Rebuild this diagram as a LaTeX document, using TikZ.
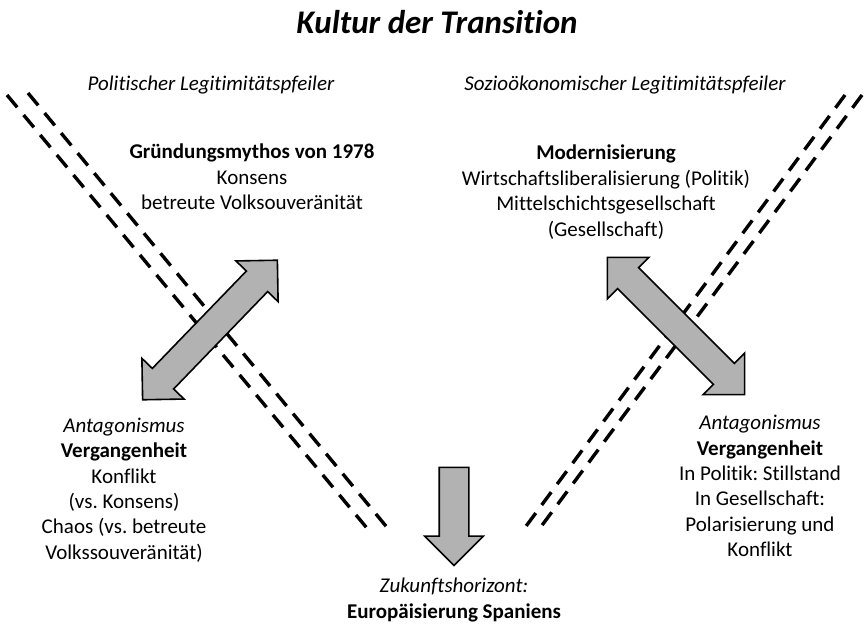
\documentclass[tikz,border=0pt]{standalone}
\usepackage{fontspec}
\setmainfont{Carlito}[Ligatures=CommonOff]
\usetikzlibrary{shapes.arrows}
\frenchspacing

\begin{document}
\begin{tikzpicture}[x=1pt,y=-1pt,
  every node/.style={align=center,inner sep=0pt,font=\fontsize{21}{25.4}\selectfont},
  pillar/.style={line width=3.4pt,dash pattern=on 16pt off 10pt},
  fatarrow/.style={draw,line width=1.6pt,fill=black!30,inner xsep=0pt,inner ysep=14pt,
    minimum height=#1}]

  \useasboundingbox (0,0) rectangle (865,631);

  % Specification of nodes (position, etc.)
  \node[font=\fontsize{33}{38}\selectfont\bfseries\itshape] (title) at (437,22) {Kultur der Transition};
  \node[font=\fontsize{21}{25.4}\selectfont\itshape] (polpf) at (211,85) {Politischer Legitimitätspfeiler};
  \node[font=\fontsize{21}{25.4}\selectfont\itshape] (soepf) at (625,85) {Sozioökonomischer Legitimitätspfeiler};

  \node (mythos) at (252,177) {\textbf{Gründungsmythos von 1978}\\Konsens\\betreute Volksouveränität};
  \node (modern) at (606,192) {\textbf{Modernisierung}\\Wirtschaftsliberalisierung (Politik)\\Mittelschichtsgesellschaft\\(Gesellschaft)};
  \node (vergl) at (124,490) {\textit{Antagonismus}\\\textbf{Vergangenheit}\\Konflikt\\(vs. Konsens)\\Chaos (vs. betreute\\Volkssouveränität)};
  \node (vergr) at (760,486) {\textit{Antagonismus}\\\textbf{Vergangenheit}\\In Politik: Stillstand\\In Gesellschaft:\\Polarisierung und\\Konflikt};
  \node (zukunft) at (454,600) {\textit{Zukunftshorizont:}\\\textbf{Europäisierung Spaniens}};

  % the two pillars
  \coordinate (la1) at (7,95);
  \coordinate (la2) at (371,533);
  \coordinate (lb1) at (28,93);
  \coordinate (lb2) at (390,531);
  \coordinate (ra1) at (845,95);
  \coordinate (ra2) at (521,533);
  \coordinate (rb1) at (862,95);
  \coordinate (rb2) at (540,528);

  \begin{scope}[pillar]
    \draw (la1) -- (la2);
    \draw (lb1) -- (lb2);
    \draw (ra1) -- (ra2);
    \draw (rb1) -- (rb2);
  \end{scope}

  % arrows
  \node[fatarrow=194pt,double arrow,double arrow head extend=14.5pt,rotate=46] (pfl) at (210,330) {};
  \node[fatarrow=194pt,double arrow,double arrow head extend=14.5pt,rotate=-45] (pfr) at (676,326) {};
  \node[fatarrow=98pt,single arrow,single arrow head extend=14.5pt,rotate=-90] (down) at (454,509) {};

\end{tikzpicture}
\end{document}
